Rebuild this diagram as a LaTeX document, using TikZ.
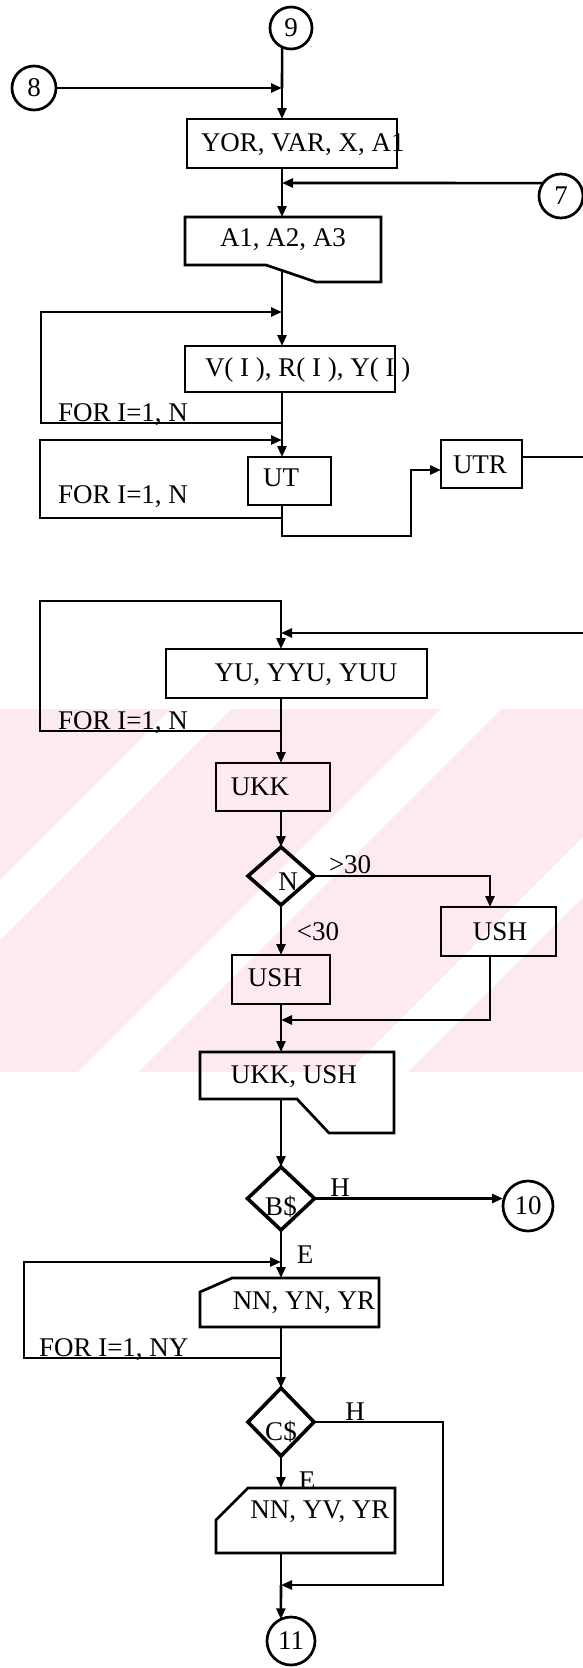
\documentclass[tikz,border=0pt]{standalone}
\usepackage{fontspec}
\setmainfont{Liberation Serif}
\usetikzlibrary{arrows.meta,shapes.geometric,calc}
\begin{document}
\begin{tikzpicture}[x=1pt,y=-1pt,
  every node/.style={font=\fontsize{27}{31}\selectfont, inner sep=0pt, outer sep=0pt},
  box/.style={draw, rectangle, line width=2.7pt},
  dia/.style={draw, diamond, line width=3.6pt},
  conn/.style={draw, circle, line width=2.7pt},
  ln/.style={line width=2.6pt},
  arr/.style={line width=2.6pt, -{Triangle[length=11pt,width=9pt]}},
  bline/.style={line width=2.7pt, line join=miter}]
\useasboundingbox (0,0) rectangle (583,1668);
\definecolor{wm}{RGB}{253,234,238}
% watermark
\begin{scope}
  \clip (0,709) rectangle (583,1072);
  \fill[wm] (0,709) rectangle (583,1072);
  \fill[white] (180,700) -- (240,700) -- (-140,1080) -- (-200,1080) -- cycle;
  \fill[white] (450,700) -- (510,700) -- (130,1080) -- (70,1080) -- cycle;
  \fill[white] (720,700) -- (780,700) -- (400,1080) -- (340,1080) -- cycle;
\end{scope}

% connectors (circles)
\node[conn, minimum size=42pt] (c9) at (291,28) {9};
\node[conn, minimum size=44pt] (c8) at (34,88) {8};
\node[conn, minimum size=44pt] (c7) at (561,196) {7};
\node[conn, minimum size=50pt] (c10) at (528,1206) {10};
\node[conn, minimum size=48pt] (c11) at (291,1641) {11};

% YOR box
\node[box, minimum width=210pt, minimum height=49pt] (yor) at (292,143.5) {};
\node[anchor=base west] (tyor) at (201,151.5) {YOR, VAR, X, A1};

% A1 document box
\coordinate (a1top) at (282,217);
\coordinate (a1bot) at (282,270.4);
\draw[bline] (185,217) -- (381,217) -- (381,282) -- (316,282) -- (266,265) -- (185,265) -- cycle;
\node (ta1) at (283,240) {A1, A2, A3};

\coordinate (j8) at (282,88);
\coordinate (j7) at (282,183);
\draw[ln] (c9.-115) -- (j8);
\draw[arr] (c8.east) -- (j8);
\draw[arr] (j8) -- (j8 |- yor.north);
\draw[ln] (j8 |- yor.south) -- (j7);
\draw[arr] (c7.144) -- (j7);
\draw[arr] (j7) -- (a1top);

% loop 1
\node[box, minimum width=210pt, minimum height=46pt] (vb) at (290,369) {};
\node[anchor=west] (tv) at (205,370) {V( I ), R( I ), Y( I )};
\coordinate (l1t) at (282,312);
\coordinate (l1b) at (282,423);
\draw[ln] (a1bot) -- (l1t);
\draw[arr] (l1b) -- (41,423) -- (41,312) -- (l1t);
\draw[arr] (l1t) -- (l1t |- vb.north);
\draw[ln] (l1t |- vb.south) -- (l1b);
\node[anchor=base west] (for1) at (58,421) {FOR I=1, N};

% loop 2
\node[box, minimum width=83pt, minimum height=48pt] (ut) at (289.5,481) {};
\node (tut) at (281,478) {UT};
\coordinate (l2t) at (282,440);
\coordinate (l2b) at (282,518);
\draw[ln] (l1b) -- (l2t);
\draw[arr] (l2b) -- (40,518) -- (40,440) -- (l2t);
\draw[arr] (l2t) -- (l2t |- ut.north);
\draw[ln] (l2t |- ut.south) -- (l2b);
\node[anchor=west] (for2) at (58,497) {FOR I=1, N};

\node[box, minimum width=81pt, minimum height=48pt] (utr) at (481.5,464) {};
\node (tutr) at (480,465) {UTR};
\coordinate (k1) at (411,470);
\coordinate (utrout) at (583,457);
\draw[arr] (l2b) -- (282,536) -- (411,536) -- (k1) -- (utr.west |- k1);
\draw[ln] (utr.east |- utrout) -- (utrout);

% loop 3
\node[box, minimum width=261pt, minimum height=49pt] (yu) at (296.5,673.5) {};
\node (tyu) at (306,675) {YU, YYU, YUU};
\coordinate (l3c) at (281,601);
\coordinate (l3j) at (281,633);
\coordinate (l3b) at (281,731);
\coordinate (rin) at (583,633);
\draw[ln] (l3b) -- (40,731) -- (40,601) -- (l3c) -- (l3j);
\draw[arr] (rin) -- (l3j);
\draw[arr] (l3j) -- (l3j |- yu.north);
\draw[ln] (l3j |- yu.south) -- (l3b);
\node[anchor=base west] (for3) at (58,729) {FOR I=1, N};

\node[box, minimum width=114pt, minimum height=48pt] (ukk) at (273,787) {};
\node (tukk) at (260,787) {UKK};
\draw[arr] (l3b) -- (l3b |- ukk.north);

% decision N
\node[dia, minimum width=66pt, minimum height=58pt] (dn) at (281,876) {};
\node (tn) at (288,882) {N};
\draw[arr] (l3b |- ukk.south) -- (dn.north);
\node[box, minimum width=115pt, minimum height=49pt] (ush2) at (498.5,931.5) {};
\node (tush2) at (500,932) {USH};
\coordinate (k2) at (490,876);
\coordinate (k3) at (490,1020);
\coordinate (j3) at (281,1020);
\draw[arr] (dn.east) -- (k2) -- (k2 |- ush2.north);
\draw[arr] (k2 |- ush2.south) -- (k3) -- (j3);
\node[anchor=base west] (g30) at (329,873) {>30};
\node[box, minimum width=98pt, minimum height=49pt] (ush1) at (281,979.5) {};
\node (tush1) at (275,978) {USH};
\draw[arr] (dn.south) -- (ush1.north);
\node (l30) at (318,932) {<30};
\coordinate (uk2top) at (281,1052);
\coordinate (uk2bot) at (281,1099);
\draw[ln] (ush1.south) -- (j3);
\draw[arr] (j3) -- (uk2top);

% UKK, USH document
\draw[bline] (200,1052) -- (394,1052) -- (394,1133) -- (329,1133) -- (297,1099) -- (200,1099) -- cycle;
\node (tuk2) at (294,1077) {UKK, USH};

% decision B$
\node[dia, minimum width=67pt, minimum height=63pt] (db) at (281,1198.5) {};
\node (tdb) at (281,1207) {B\$};
\draw[arr] (uk2bot) -- (db.north);
\draw[arr] (db.east) -- (db.east -| c10.west);
\node[anchor=base] (h1) at (340,1196) {H};
\node (e1) at (305,1255) {E};

% loop 4
\coordinate (l4t) at (281,1262);
\coordinate (l4b) at (281,1358);
\coordinate (cd1top) at (281,1278);
\coordinate (cd1bot) at (281,1327);
\draw[ln] (db.south) -- (l4t);
\draw[arr] (l4b) -- (24,1358) -- (24,1262) -- (l4t);
\draw[arr] (l4t) -- (cd1top);
\draw[bline] (232,1278) -- (379,1278) -- (379,1327) -- (200,1327) -- (200,1292) -- cycle;
\node (tcd1) at (304,1303) {NN, YN, YR};
\draw[ln] (cd1bot) -- (l4b);
\node[anchor=base west] (for4) at (39,1356) {FOR I=1, NY};

% decision C$
\node[dia, minimum width=66pt, minimum height=68pt] (dc) at (281,1422) {};
\node (tdc) at (281,1432) {C\$};
\draw[arr] (l4b) -- (dc.north);
\coordinate (k5) at (443,1585);
\coordinate (j5) at (281,1585);
\draw[arr] (dc.east) -- (dc.east -| k5) -- (k5) -- (j5);
\node[anchor=base] (h2) at (355,1420) {H};
\coordinate (cd2top) at (281,1488);
\coordinate (cd2bot) at (281,1553);
\draw[arr] (dc.south) -- (cd2top);
\node (e2) at (307,1481) {E};
\draw[bline] (248,1488) -- (395,1488) -- (395,1553) -- (216,1553) -- (216,1520) -- cycle;
\node (tcd2) at (320,1512) {NN, YV, YR};
\draw[ln] (cd2bot) -- (j5);
\draw[arr] (j5) -- (c11.115);
\end{tikzpicture}
\end{document}
